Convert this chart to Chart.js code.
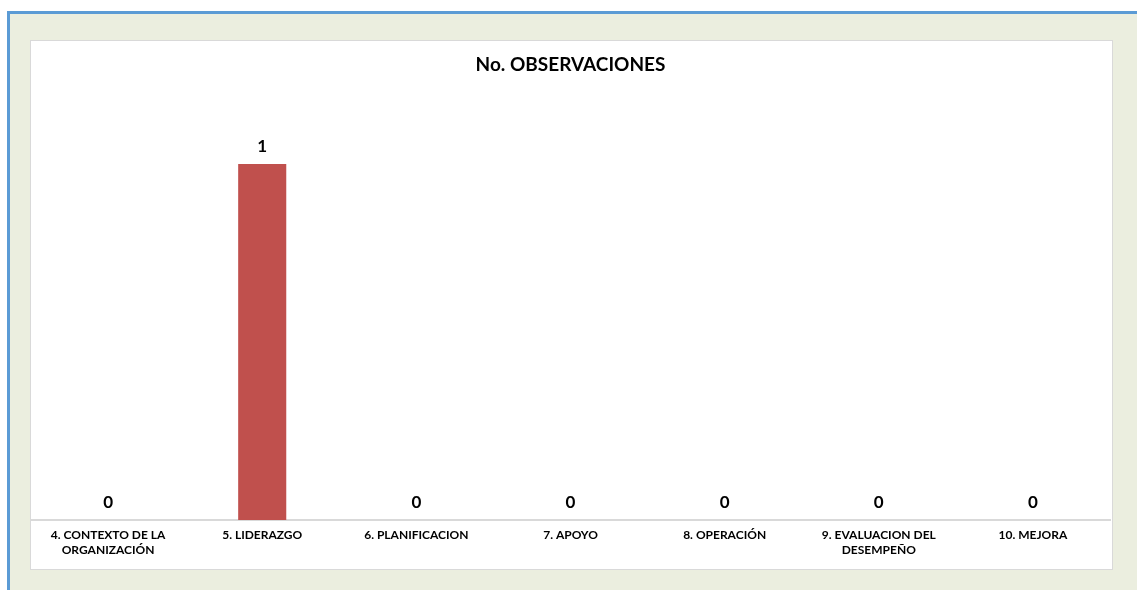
<!DOCTYPE html>
<html>
<head>
<meta charset="utf-8">
<script src="https://cdn.jsdelivr.net/npm/chart.js@4"></script>
<style>
    body { margin: 0; background: #ffffff; width: 1137px; height: 590px; overflow: hidden; position: relative; }
    #frame { position: absolute; left: 7px; top: 11px; right: 0; bottom: 0; border-left: 3px solid #5b9bd5; border-top: 3px solid #5b9bd5; background: #ebeedf; }
    #panel { position: absolute; left: 30px; top: 40px; width: 1081px; height: 528px; border: 1px solid #d9d9d9; background: #ffffff; }
</style>
</head>
<body>
<div id="frame"></div>
<div id="panel"><canvas id="obsChart" width="1081" height="528"></canvas></div>
<script>
const categories = [
    ['4. CONTEXTO DE LA', 'ORGANIZACIÓN'],
    '5. LIDERAZGO',
    '6. PLANIFICACION',
    '7. APOYO',
    '8. OPERACIÓN',
    ['9. EVALUACION DEL', 'DESEMPEÑO'],
    '10. MEJORA'
];
const observaciones = [0, 1, 0, 0, 0, 0, 0];

// draw the value above each bar
const valueLabels = {
    id: 'valueLabels',
    afterDatasetsDraw(chart) {
        const ctx = chart.ctx;
        const meta = chart.getDatasetMeta(0);
        ctx.save();
        ctx.font = 'bold 17px Lato';
        ctx.fillStyle = '#000000';
        ctx.textAlign = 'center';
        ctx.textBaseline = 'middle';
        meta.data.forEach((bar, i) => {
            ctx.fillText(String(observaciones[i]), bar.x, bar.y - 17);
        });
        ctx.restore();
    }
};

new Chart(document.getElementById('obsChart').getContext('2d'), {
    type: 'bar',
    data: {
        labels: categories,
        datasets: [{
            label: 'No. OBSERVACIONES',
            data: observaciones,
            backgroundColor: '#c0504d',
            barPercentage: 0.312,
            categoryPercentage: 1
        }]
    },
    options: {
        responsive: false,
        animation: false,
        layout: { padding: { left: 0, right: 2, top: 0, bottom: 3 } },
        plugins: {
            legend: { display: false },
            tooltip: { enabled: false },
            title: {
                display: true,
                text: 'No. OBSERVACIONES',
                color: '#000000',
                font: { family: 'Lato', size: 19, weight: 'bold', lineHeight: 1.2 },
                padding: { top: 12, bottom: 17 }
            }
        },
        scales: {
            x: {
                grid: { display: false, drawTicks: false },
                border: { display: true, color: '#d9d9d9', width: 2 },
                ticks: {
                    color: '#000000',
                    padding: 8,
                    maxRotation: 0,
                    autoSkip: false,
                    font: { family: 'Lato', size: 12, weight: 'bold', lineHeight: 1.25 }
                }
            },
            y: {
                display: false,
                min: 0,
                max: 1.2
            }
        }
    },
    plugins: [valueLabels]
});
</script>
</body>
</html>
